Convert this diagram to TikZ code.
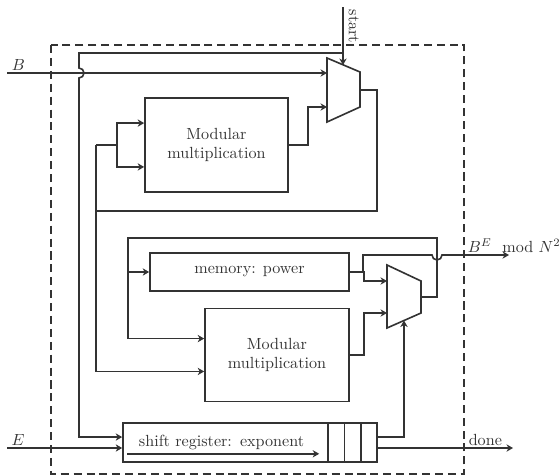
\documentclass[tikz,border=0pt]{standalone}
\usepackage{amsmath}
\usetikzlibrary{arrows.meta}

\begin{document}
\begin{tikzpicture}[
 x=0.62pt,y=-0.62pt,color=black!80,
 block/.style={draw,line width=1pt,align=center,inner sep=0pt},
 wire/.style={line width=1pt},
 signal/.style={wire,-{Stealth[length=4pt,width=4.5pt,inset=1.2pt]}},
 muxshape/.style={draw,line width=1pt,line join=miter},
 border/.style={line width=0.9pt,dash pattern=on 5pt off 3pt},
 tag/.style={inner sep=1.5pt}
]
\useasboundingbox (0,0) rectangle (559,475);
\draw[border] (51,45) rectangle (464,474);

% blocks
\node[block,minimum width=88.7pt,minimum height=58.3pt] (mult1) at (216.5,145)
 {Modular\\multiplication};
\node[block,minimum width=89.3pt,minimum height=57.7pt] (mult2) at (277,355)
 {Modular\\multiplication};
\node[block,minimum width=123.4pt,minimum height=23.6pt] (power) at (249.5,272)
 {memory: power};
\node[block,text width=137.7pt,inner xsep=9.9pt,minimum height=24.2pt,align=left] (expreg) at (250,442.5)
 {shift register: exponent};
\foreach \k in {1,2,3}
 \draw[wire] ([xshift=-\k*10.3pt]expreg.north east) -- ([xshift=-\k*10.3pt]expreg.south east);

% multiplexers
\draw[muxshape] (327,58) -- (360,72) -- (360,107) -- (327,122) -- cycle;
\coordinate (mux1 a) at (327,73);
\coordinate (mux1 b) at (327,107);
\coordinate (mux1 out) at (360,90);
\coordinate (mux1 sel) at (343,65);
\draw[muxshape] (387,265) -- (421,281) -- (421,313) -- (387,328) -- cycle;
\coordinate (mux2 a) at (387,281);
\coordinate (mux2 b) at (387,313);
\coordinate (mux2 out) at (421,297);
\coordinate (mux2 sel) at (404,320.5);

% ports
\coordinate (start) at (343,7);
\coordinate (B in) at (7,73);
\coordinate (E in) at (7,448);
\coordinate (result) at (509,255);
\coordinate (done) at (513,448);
\node[tag,anchor=south] (B label) at (18.5,73) {$B$};
\node[tag,anchor=south] (E label) at (18,448) {$E$};
\node[tag,anchor=south west,rotate=-90] (start label) at (346,7) {start};
\node[tag,anchor=south west] (result label) at (465,255) {$B^E \mod N^2$};
\node[tag,anchor=south west] (done label) at (466,448) {done};

% start: select of the first mux, load of the register
\draw[signal] (start) -- (mux1 sel);
\draw[signal] (343,53) -- (79,53) -- (79,68) arc[start angle=90,end angle=-90,radius=3.1pt]
 |- ([yshift=3.4pt]expreg.west);

% first loop
\draw[signal] (B in) -- (mux1 a);
\draw[signal] (mult1.east) -- ++(19,0) |- (mux1 b);
\draw[wire] (mux1 out) -- ++(17,0) |- (96,211);
\draw[signal] (96,145) |- ([yshift=-10.2pt]mult2.west);
\draw[wire] (96,145) -- (117,145);
\draw[signal] (117,145) |- ([yshift=13.6pt]mult1.west);
\draw[signal] (117,145) |- ([yshift=-13.6pt]mult1.west);

% second loop
\draw[signal] (mux2 out) -- ++(16,0) |- (128,238) |- ([yshift=10.2pt]mult2.west);
\draw[signal] (128,272) -- (power.west);
\draw[signal] (power.east) -- ++(14,0) |- (mux2 a);
\draw[signal] (mult2.east) -- ++(14,0) |- (mux2 b);
\draw[signal] (363,272) |- (432,255) arc[start angle=180,end angle=360,radius=3.1pt] -- (result);

% exponent in, select of the second mux, done out
\draw[signal] (E in) -- ([yshift=-3.4pt]expreg.west);
\draw[signal] ([yshift=3.4pt]expreg.east) -| (mux2 sel);
\draw[signal] ([yshift=-3.4pt]expreg.east) -- (done);
\draw[signal] ([xshift=3.1pt,yshift=5.6pt]expreg.south west) -- ++(192,0);
\end{tikzpicture}
\end{document}
